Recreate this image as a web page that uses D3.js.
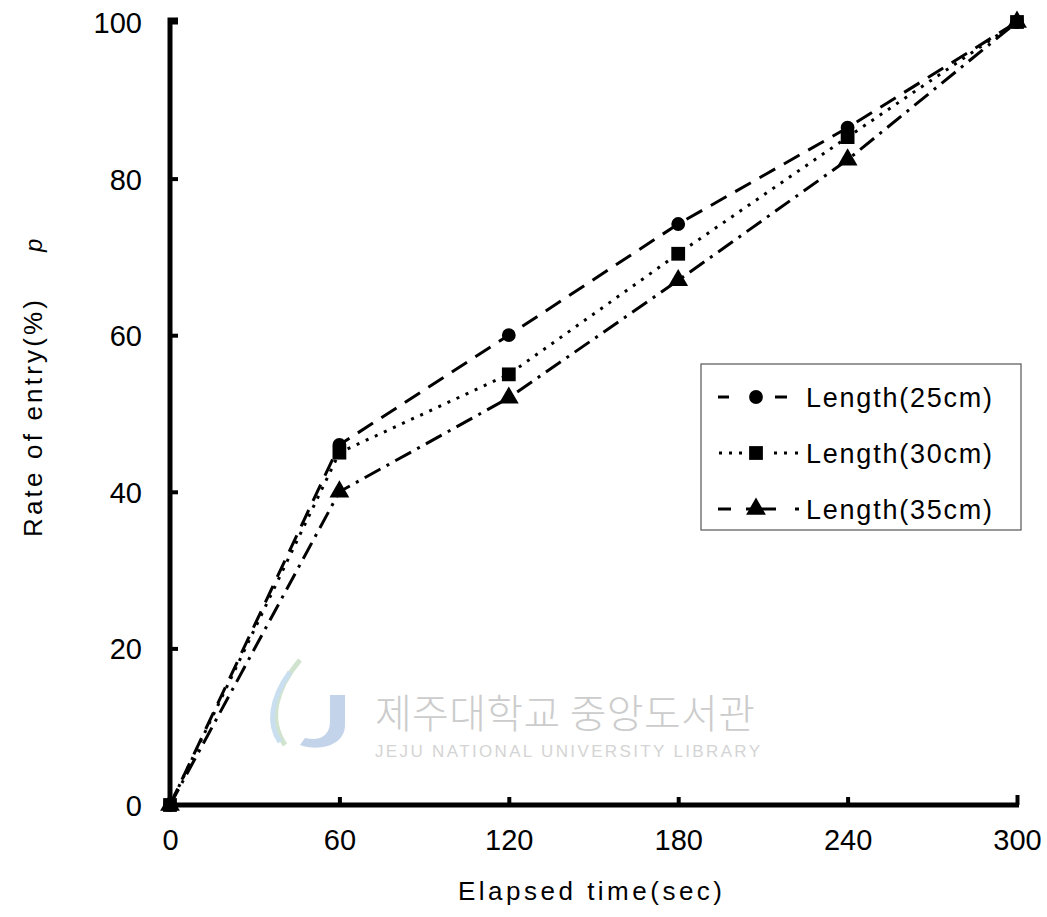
<!DOCTYPE html>
<html><head><meta charset="utf-8">
<script src="https://cdn.jsdelivr.net/npm/d3@7/dist/d3.min.js"></script>
<style>body{margin:0;background:#fff}</style>
</head><body>
<svg id="c" width="1047" height="917"></svg>
<script>
const times = [0, 60, 120, 180, 240, 300];
const len25 = [0, 46, 60, 74.2, 86.5, 100];
const len30 = [0, 45, 55, 70.4, 85.3, 100];
const len35 = [0, 40, 52, 67, 82.4, 100];
const seriesNames = ["Length(25cm)", "Length(30cm)", "Length(35cm)"];
const xTicks = [0, 60, 120, 180, 240, 300];
const yTicks = [0, 20, 40, 60, 80, 100];

const svg = d3.select("#c");
const x = d3.scaleLinear().domain([0, 300]).range([170, 1017]);
const y = d3.scaleLinear().domain([0, 100]).range([805, 22]);
const font = "'Liberation Sans', Arial, sans-serif";

// watermark
const wm = svg.append("g");
wm.append("path").attr("d","M300,660 C275,690 268,720 285,745").attr("fill","none").attr("stroke","#cfe3cf").attr("stroke-width",5);
wm.append("path").attr("d","M290,672 C270,700 268,725 280,742").attr("fill","none").attr("stroke","#c9dff0").attr("stroke-width",5);
wm.append("path").attr("d","M330,695 L345,695 L345,725 C345,745 320,752 300,745 L305,738 C320,742 330,735 330,722 Z").attr("fill","#c3d3ea");
wm.append("text").attr("x",375).attr("y",728).attr("font-family","'Noto Sans CJK KR'").attr("font-size",40).attr("font-weight",300).attr("fill","#cccccc").attr("textLength",380).text("제주대학교 중앙도서관");
wm.append("text").attr("x",375).attr("y",757).attr("font-family",font).attr("font-size",17).attr("fill","#d4d4d4").attr("textLength",385).text("JEJU NATIONAL UNIVERSITY  LIBRARY");

// axes
const gx = svg.append("g").attr("transform","translate(0,805)")
  .call(d3.axisBottom(x).tickValues(xTicks).tickSizeInner(-8).tickSizeOuter(0).tickPadding(32));
const gy = svg.append("g").attr("transform","translate(170,0)")
  .call(d3.axisLeft(y).tickValues(yTicks).tickSizeInner(-8).tickSizeOuter(0).tickPadding(28));
[gx, gy].forEach(g => {
  g.select(".domain").attr("stroke","#000").attr("stroke-width",5);
  g.selectAll(".tick line").attr("stroke","#000").attr("stroke-width",4);
  g.selectAll(".tick text").attr("font-family",font).attr("font-size",29).attr("fill","#000");
});
gx.selectAll(".tick text").attr("dy","0.45em");
gy.selectAll(".tick text").attr("dy","0.36em");
gx.select(".domain").attr("d","M168,0H1019");
gy.select(".domain").attr("d","M0,807V20H8");
gx.selectAll(".tick").filter(d => d === 300).select("line").attr("y2",-10);

// axis titles
svg.append("text").attr("x",458).attr("y",900)
  .attr("font-family",font).attr("font-size",26).attr("textLength",264).text("Elapsed time(sec)");
svg.append("text").attr("transform","translate(42,537) rotate(-90)")
  .attr("font-family",font).attr("font-size",26).attr("textLength",237).text("Rate of entry(%)");
svg.append("text").attr("transform","translate(42,252) rotate(-90)")
  .attr("font-family",font).attr("font-size",24).attr("font-style","italic").text("p");

// series
const dashes = ["18,10", "3,7", "18,7,3,7"];
const data = [len25, len30, len35];
const line = d3.line().x((d,i) => x(times[i])).y(d => y(d));
const sym = [d3.symbolCircle, d3.symbolSquare, d3.symbolTriangle];
const symSize = [150, 190, 170];
data.forEach((vals, k) => {
  svg.append("path").datum(vals).attr("d", line).attr("fill","none")
    .attr("stroke","#000").attr("stroke-width",3).attr("stroke-dasharray",dashes[k]);
  svg.selectAll(null).data(vals).join("path")
    .attr("transform",(d,i)=>`translate(${x(times[i])},${y(d)})`)
    .attr("d", d3.symbol().type(sym[k]).size(symSize[k])).attr("fill","#000");
});

// legend
const lg = svg.append("g");
lg.append("rect").attr("x",701).attr("y",364).attr("width",320).attr("height",166)
  .attr("fill","#fff").attr("stroke","#555").attr("stroke-width",1.2);
const legSegs = [
  [[718,729],[775,787]],
  [[719,722],[729,732],[739,742],[774,777],[784,787],[795,798]],
  [[718,731],[746,776],[795,799]]
];
seriesNames.forEach((n,k) => {
  const yy = 397 + k*56;
  legSegs[k].forEach(s => lg.append("line").attr("x1",s[0]).attr("x2",s[1]).attr("y1",yy).attr("y2",yy)
    .attr("stroke","#000").attr("stroke-width",3));
  lg.append("path").attr("transform",`translate(756,${yy})`)
    .attr("d", d3.symbol().type(sym[k]).size(symSize[k])).attr("fill","#000");
  lg.append("text").attr("x",806).attr("y",yy+10).attr("font-family",font).attr("font-size",27)
    .attr("textLength",186).text(n);
});
</script>
</body></html>
